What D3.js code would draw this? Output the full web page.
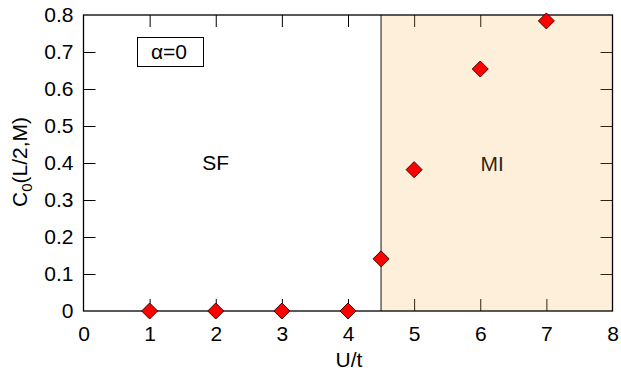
<!DOCTYPE html>
<html>
<head>
<meta charset="utf-8">
<script src="https://cdn.jsdelivr.net/npm/d3@7"></script>
<style>
  body { margin: 0; background: #fff; }
  text { font-family: "Liberation Sans", Arial, sans-serif; fill: #000; }
</style>
</head>
<body>
<div id="chart"></div>
<script>
// U/t values and C0(L/2,M)
var uValues = [1, 2, 3, 4, 4.5, 5, 6, 7];
var c0Values = [0, 0, 0, 0, 0.141, 0.382, 0.654, 0.784];

var xTicks = [0, 1, 2, 3, 4, 5, 6, 7, 8];
var yTicks = [0, 0.1, 0.2, 0.3, 0.4, 0.5, 0.6, 0.7, 0.8];
var boundary = 4.5;
var phaseLabels = [{ label: "SF", u: 2.0, c: 0.381 }, { label: "MI", u: 6.18, c: 0.378 }];

var width = 621,
    height = 370,
    margin = { top: 15, right: 8.5, bottom: 59, left: 83.5 };

var fs = "21px";

var x = d3.scaleLinear().domain([0, 8]).range([margin.left, width - margin.right]);
var y = d3.scaleLinear().domain([0, 0.8]).range([height - margin.bottom, margin.top]);

var svg = d3.select("#chart")
    .append("svg")
    .attr("width", width)
    .attr("height", height);

var tickLen = 12;
var fmt = function (d) { return d === 0 ? "0" : d3.format(".1f")(d); };
var noEnds = function (lo, hi) {
    return function (g) {
        g.select(".domain").remove();
        g.selectAll("text").style("font-size", fs);
        g.selectAll(".tick").filter(function (d) { return d === lo || d === hi; }).select("line").remove();
    };
};

// bottom axis (ticks inward)
svg.append("g")
    .attr("transform", "translate(0," + y(0) + ")")
    .call(d3.axisBottom(x).tickValues(xTicks).tickSize(-tickLen).tickPadding(15.5).tickFormat(d3.format("d")))
    .call(noEnds(0, 8));

// top ticks mirrored
svg.append("g")
    .attr("transform", "translate(0," + y(0.8) + ")")
    .call(d3.axisTop(x).tickValues(xTicks).tickSize(-tickLen).tickFormat(""))
    .call(noEnds(0, 8));

// left axis
svg.append("g")
    .attr("transform", "translate(" + x(0) + ",0)")
    .call(d3.axisLeft(y).tickValues(yTicks).tickSize(-tickLen).tickPadding(10).tickFormat(fmt))
    .call(noEnds(0, 0.8));

// right ticks mirrored
svg.append("g")
    .attr("transform", "translate(" + x(8) + ",0)")
    .call(d3.axisRight(y).tickValues(yTicks).tickSize(-tickLen).tickFormat(""))
    .call(noEnds(0, 0.8));

svg.selectAll(".tick line").attr("stroke", "#000");

svg.append("line")
    .attr("x1", x(boundary)).attr("x2", x(boundary))
    .attr("y1", y(0)).attr("y2", y(0.8))
    .attr("stroke", "#000").attr("stroke-width", 1);

// phase labels
svg.selectAll(".phase")
    .data(phaseLabels)
    .enter().append("text")
    .attr("class", "phase")
    .attr("x", function (d) { return x(d.u); })
    .attr("y", function (d) { return y(d.c); })
    .attr("text-anchor", "middle")
    .style("font-size", fs)
    .text(function (d) { return d.label; });

// shaded MI region, translucent over ticks and text
svg.append("rect")
    .attr("x", x(boundary))
    .attr("y", y(0.8))
    .attr("width", x(8) - x(boundary))
    .attr("height", y(0) - y(0.8))
    .attr("fill", "#f9ad4a")
    .attr("fill-opacity", 0.2);

// frame
svg.append("rect")
    .attr("x", x(0)).attr("y", y(0.8))
    .attr("width", x(8) - x(0)).attr("height", y(0) - y(0.8))
    .attr("fill", "none").attr("stroke", "#000").attr("stroke-width", 1.3);

// alpha key box
svg.append("rect")
    .attr("x", 137.5).attr("y", 37.5).attr("width", 66).attr("height", 29)
    .attr("fill", "#fff").attr("stroke", "#000").attr("stroke-width", 1);
svg.append("text")
    .attr("x", 169).attr("y", 59)
    .attr("text-anchor", "middle")
    .style("font-size", fs)
    .text("α=0");

// data markers
var pts = uValues.map(function (u, i) { return { u: u, c: c0Values[i] }; });
var r = 8;
svg.selectAll(".pt")
    .data(pts)
    .enter().append("path")
    .attr("class", "pt")
    .attr("d", "M0," + (-r) + "L" + r + ",0L0," + r + "L" + (-r) + ",0Z")
    .attr("transform", function (d) { return "translate(" + x(d.u) + "," + y(d.c) + ")"; })
    .attr("fill", "#ff0000")
    .attr("stroke", "#400000")
    .attr("stroke-width", 1);

// axis titles
svg.append("text")
    .attr("x", x(4) + 1).attr("y", 367)
    .attr("text-anchor", "middle")
    .style("font-size", fs)
    .text("U/t");

var yt = svg.append("text")
    .attr("transform", "translate(27,162) rotate(-90)")
    .attr("text-anchor", "middle")
    .style("font-size", fs);
yt.append("tspan").text("C");
yt.append("tspan").attr("dy", 5).style("font-size", "15px").text("0");
yt.append("tspan").attr("dy", -5).text("(L/2,M)");
</script>
</body>
</html>
